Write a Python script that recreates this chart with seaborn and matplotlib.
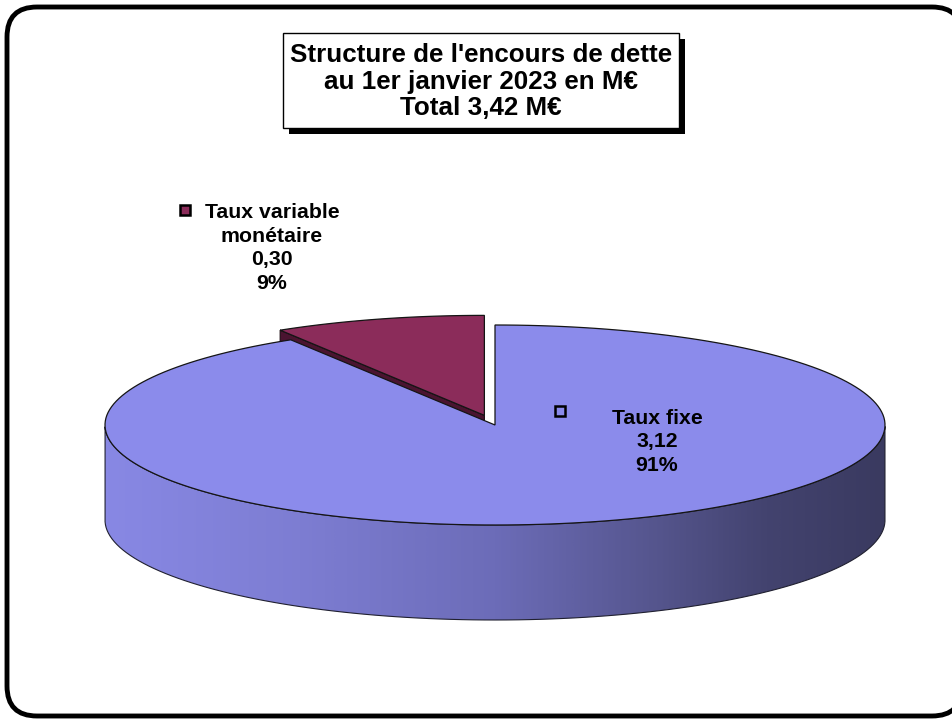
import numpy as np
import matplotlib
matplotlib.use("Agg")
import matplotlib.pyplot as plt
import seaborn as sns
from matplotlib.patches import Polygon, FancyBboxPatch, Rectangle
from matplotlib.colors import LinearSegmentedColormap

sns.set_style("white")
plt.rcParams['font.family'] = ['Liberation Sans', 'DejaVu Sans']
plt.rcParams['text.color'] = 'black'

# ---- data ----
categories = ["Taux fixe", "Taux variable\nmonétaire"]
values = [3.12, 0.30]
top_colors = ["#8b8beb", "#8b2c5a"]
face_colors = ["#5a5aa0", "#4a1430"]
explode = [0.0, 0.10]
title_lines = ["Structure de l'encours de dette", "au 1er janvier 2023 en M€", "Total 3,42 M€"]

W, H = 952, 719
fig = plt.figure(figsize=(W / 100, H / 100), dpi=100)
ax = fig.add_axes([0, 0, 1, 1])
ax.set_xlim(0, W)
ax.set_ylim(H, 0)
ax.axis("off")

# outer rounded frame
frame = FancyBboxPatch((7, 7), 955, 709, boxstyle="round,pad=0,rounding_size=30",
                       fc="white", ec="black", lw=3.5, zorder=0)
ax.add_patch(frame)

# pie geometry (layout)
cx, cy, a, b, depth = 495, 425, 390, 100, 95
total = sum(values)

def pt(theta_deg, dx=0.0, dy=0.0, down=0.0):
    t = np.radians(theta_deg)
    return (cx + dx + a * np.cos(t), cy + dy - b * np.sin(t) + down)

# slices go clockwise from 12 o'clock
angles = []
start = 90.0
for v in values:
    sweep = v / total * 360.0
    angles.append((start - sweep, start))
    start -= sweep

order = [1, 0]
for i in order:
    t0, t1 = angles[i]
    if i == 1:
        t0, t1 = t0 + 360, t1 + 360
    mid = np.radians((t0 + t1) / 2)
    dx = explode[i] * a * np.cos(mid)
    dy = -explode[i] * b * np.sin(mid)
    c = (cx + dx, cy + dy)
    ts = np.linspace(t0, t1, 200)

    front = ts[np.sin(np.radians(ts)) < 0]
    if len(front) > 1:
        topedge = [pt(t, dx, dy) for t in front]
        botedge = [pt(t, dx, dy, depth) for t in front[::-1]]
        side = Polygon(topedge + botedge, closed=True, fc="none", ec="#202030", lw=0.8, zorder=2)
        ax.add_patch(side)
        cmap = LinearSegmentedColormap.from_list(
            "side", [(0.0, "#8888e4"), (0.25, "#7d7dd2"), (0.5, "#6c6cb8"),
                     (0.7, "#56568f"), (0.85, "#43436f"), (1.0, "#3a3a60")])
        grad = np.linspace(0, 1, 400).reshape(1, -1)
        im = ax.imshow(grad, cmap=cmap, aspect="auto",
                       extent=[cx + dx - a, cx + dx + a, cy + dy + b + depth + 5, cy + dy - 5],
                       zorder=1.9, interpolation="bilinear")
        im.set_clip_path(side)

    if i == 1:
        p_out = pt(t1, dx, dy)
        face = Polygon([c, p_out, (p_out[0], p_out[1] + depth), (c[0], c[1] + depth)],
                       closed=True, fc=face_colors[i], ec="#1a0810", lw=0.8, zorder=2)
        ax.add_patch(face)

    top = [c] + [pt(t, dx, dy) for t in ts]
    ax.add_patch(Polygon(top, closed=True, fc=top_colors[i], ec="#151515", lw=0.9, zorder=3))

def fmt(v):
    return f"{v:.2f}".replace(".", ",")

pct = [round(v / total * 100) for v in values]
lab_fs = 15.3
ax.text(657, 442, f"{categories[0]}\n{fmt(values[0])}\n{pct[0]}%", ha="center", va="center",
        fontsize=lab_fs, fontweight="bold", linespacing=1.3, zorder=5, color="black")
ax.add_patch(Rectangle((555, 406), 10, 10, fc=top_colors[0], ec="black", lw=1.8, zorder=5))
ax.text(272, 248, f"{categories[1]}\n{fmt(values[1])}\n{pct[1]}%", ha="center", va="center",
        fontsize=lab_fs, fontweight="bold", linespacing=1.3, zorder=5, color="black")
ax.add_patch(Rectangle((180, 205), 10, 10, fc=top_colors[1], ec="black", lw=1.8, zorder=5))

ax.add_patch(Rectangle((289, 39), 396, 95, fc="black", ec="black", lw=0, zorder=4))
ax.add_patch(Rectangle((283, 33), 396, 95, fc="white", ec="black", lw=1.0, zorder=4.5))
ax.text(481, 81.5, "\n".join(title_lines), ha="center", va="center",
        fontsize=18.7, fontweight="bold", linespacing=1.14, zorder=5, color="black")

fig.savefig("out.png", dpi=100)
